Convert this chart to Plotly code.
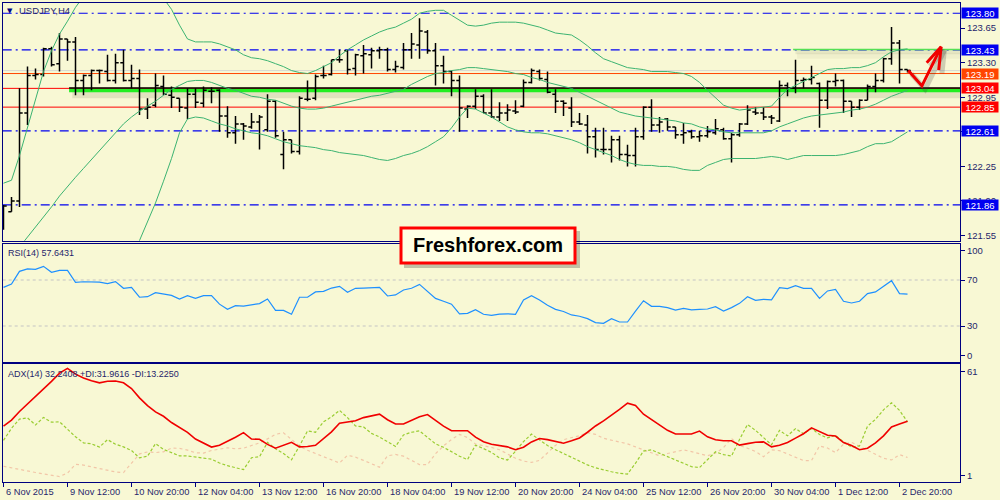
import plotly.graph_objects as go

# ---------------- data ----------------
time_labels = ['6 Nov 2015', '9 Nov 12:00', '10 Nov 20:00', '12 Nov 04:00', '13 Nov 12:00',
               '16 Nov 20:00', '18 Nov 04:00', '19 Nov 12:00', '20 Nov 20:00', '24 Nov 04:00',
               '25 Nov 12:00', '26 Nov 20:00', '30 Nov 04:00', '1 Dec 12:00', '2 Dec 20:00']
label_step = 8  # one time label every 8 H4 bars

open_ = [121.64,121.79,121.90,122.79,123.17,123.18,123.44,123.29,123.54,123.51,
         123.12,123.17,123.22,123.21,123.12,123.30,123.12,123.14,122.83,122.87,
         123.06,122.97,122.94,122.84,122.98,122.89,123.01,123.02,122.76,122.59,
         122.68,122.65,122.70,122.62,122.91,122.37,122.52,122.40,122.93,122.94,
         123.17,123.18,123.33,123.42,123.24,123.37,123.38,123.42,123.43,123.23,
         123.25,123.43,123.48,123.61,123.42,123.27,123.21,123.12,122.83,122.86,
         122.96,122.79,122.75,122.79,122.81,122.86,123.10,123.21,123.13,122.98,
         122.91,122.84,122.70,122.67,122.55,122.42,122.42,122.52,122.37,122.36,
         122.55,122.85,122.67,122.73,122.65,122.57,122.60,122.55,122.56,122.59,
         122.62,122.53,122.57,122.68,122.80,122.79,122.75,122.71,123.07,123.04,
         123.12,123.13,123.09,122.92,123.11,123.12,122.91,122.85,122.92,123.06,
         123.12,123.34,123.50,123.23]
high = [121.86,121.94,123.04,123.26,123.24,123.45,123.46,123.60,123.54,123.56,
        123.18,123.23,123.23,123.38,123.39,123.43,123.28,123.23,122.94,123.19,
        123.17,123.06,122.94,123.04,123.04,123.06,123.05,123.03,122.86,122.76,
        122.69,122.79,122.77,122.98,122.92,122.60,122.52,122.96,123.12,123.18,
        123.27,123.33,123.43,123.43,123.39,123.48,123.45,123.46,123.45,123.32,
        123.50,123.60,123.75,123.63,123.50,123.37,123.22,123.17,122.87,123.03,
        122.98,123.03,122.90,122.88,122.92,123.13,123.24,123.23,123.21,123.03,
        122.92,122.95,122.79,122.77,122.64,122.64,122.56,122.56,122.47,122.64,
        122.86,122.93,122.75,122.74,122.65,122.69,122.62,122.61,122.66,122.73,
        122.64,122.59,122.69,122.87,122.85,122.85,122.77,123.12,123.10,123.33,
        123.15,123.27,123.10,123.12,123.19,123.13,122.91,122.93,123.08,123.19,
        123.35,123.66,123.53,123.23]
low = [121.61,121.79,121.84,122.67,123.13,123.16,123.26,123.21,123.32,122.97,
       122.97,123.02,123.09,123.11,123.09,123.11,123.04,122.77,122.73,122.85,
       122.97,122.84,122.80,122.73,122.84,122.85,122.89,122.60,122.54,122.48,
       122.52,122.63,122.42,122.60,122.54,122.22,122.38,122.37,122.91,122.92,
       123.14,123.17,123.30,123.18,123.17,123.19,123.24,123.34,123.21,123.20,
       123.23,123.34,123.34,123.39,123.07,123.09,122.96,122.60,122.74,122.83,
       122.79,122.74,122.71,122.71,122.78,122.85,123.09,123.12,122.99,122.79,
       122.76,122.65,122.67,122.38,122.34,122.37,122.29,122.31,122.25,122.25,
       122.52,122.60,122.59,122.61,122.53,122.48,122.53,122.50,122.54,122.57,
       122.52,122.29,122.55,122.67,122.77,122.72,122.68,122.70,122.96,122.99,
       123.04,123.08,122.64,122.83,123.06,122.79,122.75,122.82,122.92,123.00,
       123.10,123.28,123.09,123.20]
close = [121.85,121.90,122.79,123.17,123.18,123.44,123.28,123.54,123.51,123.12,
         123.17,123.22,123.22,123.12,123.30,123.12,123.14,122.83,122.85,123.07,
         122.98,122.95,122.85,122.98,122.90,123.02,123.01,122.76,122.59,122.68,
         122.66,122.70,122.75,122.91,122.56,122.52,122.40,122.94,122.93,123.16,
         123.17,123.33,123.33,123.23,123.38,123.39,123.42,123.43,123.23,123.26,
         123.43,123.49,123.62,123.42,123.27,123.21,123.12,122.84,122.86,122.96,
         122.79,122.75,122.79,122.82,122.80,123.10,123.22,123.14,123.00,122.91,
         122.89,122.70,122.68,122.55,122.42,122.42,122.52,122.37,122.36,122.55,
         122.85,122.67,122.70,122.65,122.57,122.59,122.55,122.56,122.60,122.63,
         122.53,122.57,122.68,122.82,122.79,122.75,122.74,123.07,123.04,123.12,
         123.13,123.15,122.92,123.11,123.12,122.91,122.85,122.92,123.06,123.12,
         123.34,123.50,123.23,123.22]
bb_upper = [122.08,122.11,122.36,122.65,122.93,123.21,123.42,123.59,123.72,123.86,
            123.97,124.06,124.12,124.16,124.19,124.20,124.19,124.13,124.09,124.03,
            123.95,123.84,123.68,123.54,123.51,123.51,123.51,123.49,123.46,123.43,
            123.38,123.35,123.34,123.32,123.29,123.26,123.22,123.20,123.19,123.22,
            123.26,123.30,123.37,123.43,123.48,123.53,123.57,123.61,123.64,123.66,
            123.70,123.74,123.80,123.82,123.83,123.83,123.78,123.73,123.68,123.67,
            123.68,123.70,123.71,123.71,123.71,123.70,123.68,123.66,123.63,123.60,
            123.59,123.58,123.53,123.47,123.40,123.34,123.31,123.28,123.25,123.24,
            123.23,123.21,123.21,123.21,123.20,123.19,123.16,123.10,123.02,122.94,
            122.87,122.84,122.82,122.83,122.84,122.85,122.86,122.95,123.03,123.07,
            123.11,123.15,123.19,123.23,123.24,123.24,123.25,123.25,123.27,123.30,
            123.36,123.41,123.43,123.44]
bb_middle = [121.23,121.33,121.44,121.54,121.64,121.74,121.84,121.95,122.05,122.14,
             122.23,122.32,122.41,122.50,122.60,122.68,122.75,122.81,122.86,122.91,
             122.97,123.03,123.07,123.11,123.12,123.12,123.10,123.07,123.04,123.02,
             122.99,122.96,122.95,122.93,122.92,122.89,122.86,122.84,122.83,122.83,
             122.84,122.86,122.88,122.90,122.92,122.94,122.96,122.97,122.99,123.01,
             123.03,123.08,123.12,123.16,123.19,123.20,123.22,123.23,123.25,123.25,
             123.24,123.23,123.22,123.21,123.19,123.18,123.15,123.13,123.10,123.08,
             123.06,123.04,123.00,122.96,122.92,122.88,122.84,122.80,122.78,122.76,
             122.75,122.74,122.73,122.72,122.71,122.69,122.68,122.65,122.63,122.62,
             122.60,122.59,122.59,122.59,122.59,122.59,122.61,122.65,122.68,122.71,
             122.74,122.76,122.77,122.78,122.79,122.80,122.82,122.83,122.85,122.88,
             122.92,122.96,122.99,123.02]
bb_lower = [120.38,120.44,120.50,120.41,120.33,120.27,120.28,120.37,120.39,120.45,
            120.54,120.63,120.71,120.86,121.01,121.17,121.33,121.50,121.69,121.88,
            122.10,122.33,122.59,122.73,122.75,122.74,122.71,122.68,122.66,122.63,
            122.61,122.59,122.58,122.56,122.53,122.50,122.48,122.46,122.45,122.44,
            122.42,122.41,122.39,122.38,122.37,122.36,122.34,122.32,122.31,122.33,
            122.36,122.38,122.41,122.45,122.50,122.55,122.64,122.75,122.84,122.83,
            122.79,122.75,122.70,122.65,122.62,122.60,122.59,122.59,122.58,122.56,
            122.54,122.52,122.49,122.45,122.42,122.39,122.36,122.32,122.29,122.27,
            122.26,122.26,122.25,122.25,122.24,122.22,122.21,122.21,122.26,122.29,
            122.32,122.33,122.33,122.33,122.33,122.34,122.35,122.34,122.32,122.34,
            122.36,122.36,122.36,122.36,122.36,122.37,122.39,122.41,122.45,122.48,
            122.48,122.50,122.55,122.60]
rsi = [63.6,66.5,77.5,79.6,79.2,81.9,76.7,78.4,78.4,68.0,
       68.5,68.4,68.2,66.8,68.6,62.8,63.6,55.0,55.5,59.0,
       58.0,56.6,53.5,56.4,54.0,56.4,56.4,49.0,44.5,47.7,
       47.3,48.3,49.5,53.5,43.6,43.6,40.2,55.0,55.0,59.6,
       60.1,63.0,64.5,59.3,62.8,63.0,63.4,63.6,56.1,57.0,
       61.3,62.8,66.2,59.9,54.0,51.5,49.0,40.6,41.0,44.2,
       40.2,39.3,40.4,40.6,40.2,52.6,56.4,52.6,48.0,44.5,
       42.6,39.6,38.5,36.4,33.0,32.3,36.4,33.5,33.5,43.0,
       52.0,47.1,47.0,46.0,43.9,45.4,44.0,44.5,44.8,46.8,
       43.0,46.0,49.7,55.5,52.3,53.2,52.8,63.3,62.5,65.0,
       62.8,62.8,54.0,60.5,61.9,51.5,50.0,51.5,58.2,59.6,
       64.2,69.4,58.2,57.6431]
adx = [29.7,32.9,37.4,41.4,45.1,48.9,53.3,57.6,60.1,57.1,
       55.1,53.6,52.5,53.3,53.5,52.5,49.5,44.6,40.5,37.2,
       34.9,31.6,29.2,26.4,22.9,20.7,18.7,19.7,21.7,23.9,
       26.3,22.9,22.8,20.1,18.1,19.8,21.2,18.8,19.0,19.6,
       22.9,26.7,31.2,32.0,32.5,34.2,35.0,36.0,33.1,30.8,
       30.8,32.6,34.6,35.8,32.8,29.7,27.3,27.3,27.3,23.9,
       21.5,20.2,19.4,18.8,17.3,18.6,21.4,23.2,22.6,21.6,
       20.7,22.0,23.5,26.5,29.8,32.5,35.3,38.5,41.8,40.6,
       36.0,33.1,30.0,27.5,25.6,25.6,25.6,27.1,24.1,22.5,
       22.0,22.0,19.7,20.5,21.2,21.4,18.8,19.7,21.1,23.4,
       25.7,28.8,26.9,24.9,24.5,21.1,19.5,17.3,18.1,20.9,
       24.6,29.3,30.8,32.2408]
plus_di = [22.2,28.6,33.4,34.1,30.3,34.3,31.8,32.0,28.1,24.1,
           20.9,20.4,18.7,22.6,20.2,18.8,16.9,13.0,13.9,20.5,
           17.5,15.8,14.1,14.0,13.6,12.9,12.3,10.3,8.9,7.7,
           6.8,13.1,13.6,21.2,17.8,15.3,12.0,19.3,27.2,26.5,
           32.0,34.6,38.0,34.2,29.8,29.3,25.9,24.0,21.4,19.0,
           25.1,26.5,27.2,24.0,20.4,18.6,16.3,13.9,12.1,19.7,
           17.9,15.9,13.0,11.9,16.5,21.6,25.5,22.4,19.5,17.3,
           15.3,13.2,11.1,9.3,7.8,6.6,5.7,4.9,4.5,10.2,
           16.6,17.2,15.5,13.9,12.2,10.1,8.4,7.9,12.3,16.2,
           14.7,14.0,22.7,30.6,27.5,23.5,19.9,27.5,24.6,28.4,
           25.7,28.5,25.3,23.5,24.9,21.4,18.7,19.3,29.7,33.3,
           38.3,42.0,38.0,31.9616]
minus_di = [8.6,7.7,7.0,6.3,5.3,4.6,3.9,3.2,5.0,9.6,
            9.2,8.3,7.5,6.5,5.6,5.3,10.1,15.1,16.1,15.8,
            16.2,18.2,18.0,17.1,15.7,15.5,16.9,17.8,18.3,17.8,
            18.1,19.5,20.9,23.0,25.4,26.2,22.7,19.2,17.0,15.3,
            13.7,12.0,10.3,14.4,13.4,11.7,10.0,8.1,14.1,14.8,
            13.9,11.9,9.5,9.5,15.2,19.3,22.7,25.4,23.7,20.3,
            19.5,18.5,17.3,15.2,12.8,11.3,10.6,11.7,15.9,19.6,
            22.6,23.6,24.7,26.3,25.4,23.3,22.2,21.3,20.4,18.8,
            17.1,15.4,14.1,15.3,16.3,17.2,16.3,15.2,14.1,15.5,
            18.4,23.2,19.5,18.1,16.4,13.6,17.2,16.8,15.2,13.3,
            11.6,11.6,19.3,18.2,15.8,20.2,21.2,19.1,17.0,14.8,
            12.8,11.9,14.7,13.2250]

# horizontal levels drawn on the chart: (price, style)
level_prices = [123.80, 123.43, 122.61, 121.86, 123.19, 123.04, 122.85]
level_styles = ['blue', 'blue', 'blue', 'blue', 'orange', 'red', 'red']
bid_price = 123.22
support_level = 123.04      # thick green line
support_start_bar = 8.2
resist_level = 123.43       # thin green line
resist_start_bar = 98.7
price_ticks = [121.55, 121.90, 122.25, 122.60, 122.95, 123.30, 123.65]
rsi_levels = [70, 30]
rsi_tick_vals = [95.8, 70, 30, 4.2]
rsi_tick_text = ['100', '70', '30', '0']
adx_tick_vals = [58.4, 3.6]
adx_tick_text = ['61', '1']
# hand drawn forecast arrow (bar index, price)
arrow_x = [113.1, 114.8, 117.2]
arrow_y = [123.22, 123.065, 123.46]
arrow_head_x = [115.4, 117.2, 116.9]
arrow_head_y = [123.30, 123.46, 123.225]

# ---------------- styling ----------------
BG = '#F8F8D4'
NAVY = '#000080'
TXT = '#1F1F6B'
BLUE = '#0000F0'
FONT = 'Liberation Sans, Arial, sans-serif'
n = len(close)
idx = list(range(n))
XR = [-0.1, 119.56]
XDOM = [2.7 / 1000, 960 / 1000]

def ydom(top_px, bot_px):
    return [1 - bot_px / 500, 1 - top_px / 500]

fig = go.Figure()

# Bollinger bands
for band in (bb_upper, bb_middle, bb_lower):
    fig.add_trace(go.Scatter(x=idx, y=band, mode='lines', line=dict(color='#3CB371', width=1),
                             xaxis='x', yaxis='y', hoverinfo='skip', showlegend=False))

# price bars
fig.add_trace(go.Ohlc(x=idx, open=open_, high=high, low=low, close=close,
                      increasing=dict(line=dict(color='black', width=1.5)),
                      decreasing=dict(line=dict(color='black', width=1.5)),
                      tickwidth=0.4, xaxis='x', yaxis='y', hoverinfo='skip', showlegend=False))

# forecast arrow with shadow
for xs, ys in ((arrow_x, arrow_y), (arrow_head_x, arrow_head_y)):
    fig.add_trace(go.Scatter(x=[v + 0.4 for v in xs], y=[v - 0.035 for v in ys], mode='lines',
                             line=dict(color='rgba(60,60,60,0.22)', width=5), xaxis='x', yaxis='y',
                             hoverinfo='skip', showlegend=False))
for xs, ys in ((arrow_x, arrow_y), (arrow_head_x, arrow_head_y)):
    fig.add_trace(go.Scatter(x=xs, y=ys, mode='lines', line=dict(color='#F00000', width=3),
                             xaxis='x', yaxis='y', hoverinfo='skip', showlegend=False))

# RSI
fig.add_trace(go.Scatter(x=idx, y=rsi, mode='lines', line=dict(color='#1E90FF', width=1.2),
                         xaxis='x2', yaxis='y2', hoverinfo='skip', showlegend=False))
# ADX
fig.add_trace(go.Scatter(x=idx, y=minus_di, mode='lines', line=dict(color='#F2C6A8', width=1.2, dash='3px,3px'),
                         xaxis='x3', yaxis='y3', hoverinfo='skip', showlegend=False))
fig.add_trace(go.Scatter(x=idx, y=plus_di, mode='lines', line=dict(color='#9ACD32', width=1.2, dash='3px,2px'),
                         xaxis='x3', yaxis='y3', hoverinfo='skip', showlegend=False))
fig.add_trace(go.Scatter(x=idx, y=adx, mode='lines', line=dict(color='#F00000', width=1.6),
                         xaxis='x3', yaxis='y3', hoverinfo='skip', showlegend=False))

shapes = []
style_map = {'blue': dict(color=BLUE, width=1.2, dash='9px,4px,2px,4px'),
             'orange': dict(color='#FF4500', width=1),
             'red': dict(color='#FF0000', width=1)}
shapes.append(dict(type='line', xref='x domain', x0=0, x1=1, yref='y', y0=bid_price, y1=bid_price,
                   line=dict(color='#D8D8D0', width=1), layer='below'))
for p, s in zip(level_prices, level_styles):
    shapes.append(dict(type='line', xref='x domain', x0=0, x1=1, yref='y', y0=p, y1=p,
                       line=style_map[s], layer='below'))
# green support line with shadow
shapes.append(dict(type='line', xref='x', x0=support_start_bar + 0.4, x1=XR[1], yref='y',
                   y0=support_level - 0.06, y1=support_level - 0.06,
                   line=dict(color='rgba(70,70,40,0.12)', width=8), layer='below'))
shapes.append(dict(type='line', xref='x', x0=support_start_bar, x1=XR[1], yref='y',
                   y0=support_level - 0.022, y1=support_level - 0.022,
                   line=dict(color='#22EE22', width=3.5), layer='below'))
shapes.append(dict(type='line', xref='x', x0=support_start_bar, x1=XR[1], yref='y',
                   y0=support_level + 0.003, y1=support_level + 0.003,
                   line=dict(color='black', width=1.5), layer='below'))
# green resistance line with soft shadow
shapes.append(dict(type='line', xref='x', x0=resist_start_bar + 0.3, x1=XR[1], yref='y',
                   y0=resist_level - 0.025, y1=resist_level - 0.025,
                   line=dict(color='rgba(70,70,40,0.09)', width=4), layer='below'))
shapes.append(dict(type='line', xref='x', x0=resist_start_bar + 0.5, x1=XR[1], yref='y',
                   y0=resist_level - 0.06, y1=resist_level - 0.06,
                   line=dict(color='rgba(70,70,40,0.05)', width=6), layer='below'))
shapes.append(dict(type='line', xref='x', x0=resist_start_bar, x1=XR[1], yref='y',
                   y0=resist_level + 0.004, y1=resist_level + 0.004,
                   line=dict(color='#55E055', width=1.5), layer='below'))
# RSI levels
for lv in rsi_levels:
    shapes.append(dict(type='line', xref='x2 domain', x0=0, x1=1, yref='y2', y0=lv, y1=lv,
                       line=dict(color='#C4C4C4', width=1, dash='3px,3px'), layer='below'))
# Freshforex box with shadow
shapes.append(dict(type='rect', xref='paper', yref='paper', x0=404 / 1000, x1=580 / 1000,
                   y0=1 - 268 / 500, y1=1 - 231 / 500, fillcolor='rgba(0,0,0,0.22)', line=dict(width=0)))
shapes.append(dict(type='rect', xref='paper', yref='paper', x0=401 / 1000, x1=575 / 1000,
                   y0=1 - 263 / 500, y1=1 - 228 / 500, fillcolor='#FFFFE4', line=dict(color='#FF0000', width=3)))

annotations = []
# right price-axis boxes
box_colors = {'blue': BLUE, 'orange': '#FF4500', 'red': '#FF0000'}
for p, s in zip(level_prices, level_styles):
    annotations.append(dict(xref='paper', x=961 / 1000, xanchor='left', yref='y', y=p, yanchor='middle',
                            text='%.2f' % p, showarrow=False, bgcolor=box_colors[s], width=36, height=10,
                            borderpad=0, font=dict(family=FONT, size=9.5, color='white')))
# title and indicator labels
annotations.append(dict(xref='paper', yref='paper', x=5 / 1000, y=1 - 10.5 / 500, xanchor='left', yanchor='middle',
                        text='▼', showarrow=False, font=dict(family='DejaVu Sans', size=7, color=NAVY)))
annotations.append(dict(xref='paper', yref='paper', x=17 / 1000, y=1 - 10.5 / 500, xanchor='left', yanchor='middle',
                        text='USDJPY,H4', showarrow=False, font=dict(family=FONT, size=9.5, color=TXT)))
annotations.append(dict(xref='paper', yref='paper', x=6 / 1000, y=1 - 252.5 / 500, xanchor='left', yanchor='middle',
                        text='RSI(14) %.4f' % rsi[-1], showarrow=False, font=dict(family=FONT, size=9, color=TXT)))
annotations.append(dict(xref='paper', yref='paper', x=6 / 1000, y=1 - 373.5 / 500, xanchor='left', yanchor='middle',
                        text='ADX(14) %.4f +DI:%.4f -DI:%.4f' % (adx[-1], plus_di[-1], minus_di[-1]),
                        showarrow=False, font=dict(family=FONT, size=9, color=TXT)))
# time labels (left aligned at their tick, MT4 style)
for k, lab in enumerate(time_labels):
    annotations.append(dict(xref='x3', x=k * label_step, yref='paper', y=1 - 491.5 / 500, xanchor='left',
                            yanchor='middle', xshift=0, text=lab, showarrow=False,
                            font=dict(family=FONT, size=9.3, color=TXT)))
annotations.append(dict(xref='paper', yref='paper', x=488 / 1000, y=1 - 245 / 500, xanchor='center', yanchor='middle',
                        text='<b>Freshforex.com</b>', showarrow=False,
                        font=dict(family='Liberation Sans, Arial, sans-serif', size=20, color='black')))

axis_common = dict(showgrid=False, zeroline=False, showline=True, linecolor=NAVY, linewidth=1, mirror=True)
tick_font = dict(family=FONT, size=9.5, color=TXT)
fig.update_layout(
    width=1000, height=500, margin=dict(l=0, r=0, t=0, b=0),
    paper_bgcolor=BG, plot_bgcolor=BG, showlegend=False,
    xaxis=dict(domain=XDOM, range=XR, anchor='y', showticklabels=False, ticks='', rangeslider=dict(visible=False),
               **axis_common),
    yaxis=dict(domain=ydom(2.7, 240.7), range=[121.498, 123.907], anchor='x', side='right',
               tickvals=price_ticks, ticktext=['%.2f' % v for v in price_ticks], ticks='outside', ticklen=4,
               tickcolor=NAVY, tickfont=tick_font, **axis_common),
    xaxis2=dict(domain=XDOM, range=XR, anchor='y2', showticklabels=False, ticks='', **axis_common),
    yaxis2=dict(domain=ydom(243.7, 361.7), range=[-1.04, 101.57], anchor='x2', side='right',
                tickvals=rsi_tick_vals, ticktext=rsi_tick_text, ticks='outside', ticklen=4, tickcolor=NAVY,
                tickfont=tick_font, **axis_common),
    xaxis3=dict(domain=XDOM, range=XR, anchor='y3', showticklabels=False, ticks='outside', ticklen=4,
                tickcolor=NAVY, tickvals=[k * label_step for k in range(len(time_labels))], **axis_common),
    yaxis3=dict(domain=ydom(364.3, 481.7), range=[0.47, 62.26], anchor='x3', side='right',
                tickvals=adx_tick_vals, ticktext=adx_tick_text, ticks='outside', ticklen=4, tickcolor=NAVY,
                tickfont=tick_font, **axis_common),
    shapes=shapes, annotations=annotations,
)
fig.write_html('out.html', config={'displayModeBar': False, 'staticPlot': True}, post_script=(
    "document.documentElement.style.margin='0';document.body.style.margin='0';"
    "document.body.style.padding='0';document.body.style.overflow='hidden';"
    "document.body.style.backgroundColor='#F8F8D4';"))
